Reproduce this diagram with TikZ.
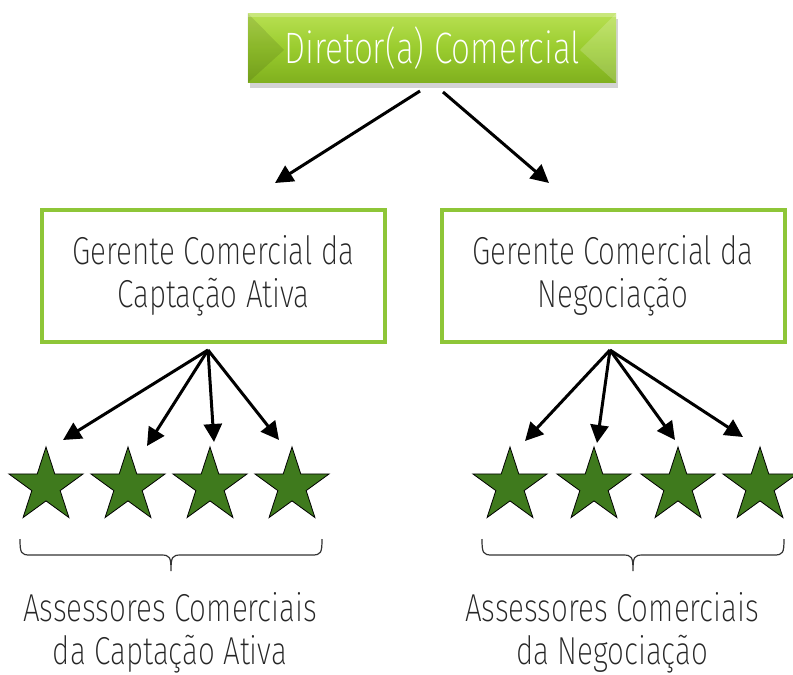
\documentclass[tikz,border=0pt]{standalone}
\usepackage{fontspec}
\setmainfont{Fira Sans}[UprightFont={* ExtraLight},FakeStretch=0.76]
\usetikzlibrary{%
  arrows.meta,%
  shapes.geometric,% wg. star
  shadows,%
  positioning%
}
\definecolor{lime}{RGB}{154,204,46}
\definecolor{limelight}{RGB}{184,224,82}
\definecolor{limedark}{RGB}{128,176,30}
\definecolor{boxgreen}{RGB}{142,198,56}
\definecolor{stargreen}{RGB}{63,122,29}
\tikzset{
  chief/.style={minimum width=184pt, minimum height=34.5pt, inner sep=0pt,
    top color=limelight, bottom color=limedark, middle color=lime,
    drop shadow={shadow xshift=1pt, shadow yshift=-2.5pt, opacity=0.35},
    text=white, font=\fontsize{22}{24}\selectfont},
  manager/.style={draw=boxgreen, line width=2pt, fill=white,
    minimum width=171.5pt, minimum height=66pt, inner sep=0pt,
    align=center, text=black!85, font=\fontsize{19.5}{21.5}\selectfont},
  member/.style={star, star points=5, star point ratio=2.618,
    minimum size=39pt, inner sep=0pt, fill=stargreen, draw=black, line width=0.4pt},
  team/.style={align=center, text=black!85, font=\fontsize{19.5}{21.5}\selectfont},
  link/.style={-{Triangle[length=9pt,width=9pt]}, line width=1.5pt},
  group/.style={draw=black!80, line width=0.6pt}
}
\begin{document}
\begin{tikzpicture}[x=0.5pt, y=-0.5pt]
\useasboundingbox (0,0) rectangle (793,675);

% director
\node[chief] (dir) at (432,48) {Diretor(a) Comercial};
\fill[black, opacity=0.10] (dir.north west) -- (dir.south west) -- (284,50) -- cycle;
\fill[white, opacity=0.18] (dir.north east) -- (dir.south east) -- (580,50) -- cycle;
\fill[white, opacity=0.25] (dir.north west) rectangle ([yshift=-2pt]dir.north east);

% managers
\node[manager] (gca) at (213.5,276) {Gerente Comercial da\\Captação Ativa};
\node[manager] (gneg) at (613,276) {Gerente Comercial da\\Negociação};

% advisors
\foreach \x [count=\i] in {46,128,210,292} {
  \node[member] (a\i) at (\x,486) {};
}
\foreach \x [count=\i] in {510,594,678,760} {
  \node[member] (b\i) at (\x,486) {};
}

% arrow ends
\coordinate (d1) at (420,91);
\coordinate (d2) at (443,92);
\coordinate (ga) at (275,183);
\coordinate (gb) at (549,183);
\coordinate (la) at (208,350);
\coordinate (lb) at (610,350);
\coordinate (ea1) at (63,440);
\coordinate (ea2) at (147,446);
\coordinate (ea3) at (214,442);
\coordinate (ea4) at (279,440);
\coordinate (eb1) at (525,441);
\coordinate (eb2) at (597,443);
\coordinate (eb3) at (675,440);
\coordinate (eb4) at (743,437);

\draw[link] (d1) -- (ga);
\draw[link] (d2) -- (gb);
\foreach \i in {1,...,4} {
  \draw[link] (la) -- (ea\i);
  \draw[link] (lb) -- (eb\i);
}

% braces
\draw[group] (20,539) .. controls (20,553) and (21,555) .. (30,555) -- (161,555)
  .. controls (170,555) and (171,557) .. (171,571)
  .. controls (171,557) and (172,555) .. (181,555) -- (312,555)
  .. controls (321,555) and (322,553) .. (322,539);
\draw[group] (482,539) .. controls (482,553) and (483,555) .. (492,555) -- (623,555)
  .. controls (632,555) and (633,557) .. (633,571)
  .. controls (633,557) and (634,555) .. (643,555) -- (774,555)
  .. controls (783,555) and (784,553) .. (784,539);

\node[team] (ta) at (170,633) {Assessores Comerciais\\da Captação Ativa};
\node[team] (tb) at (612,633) {Assessores Comerciais\\da Negociação};

\end{tikzpicture}
\end{document}
